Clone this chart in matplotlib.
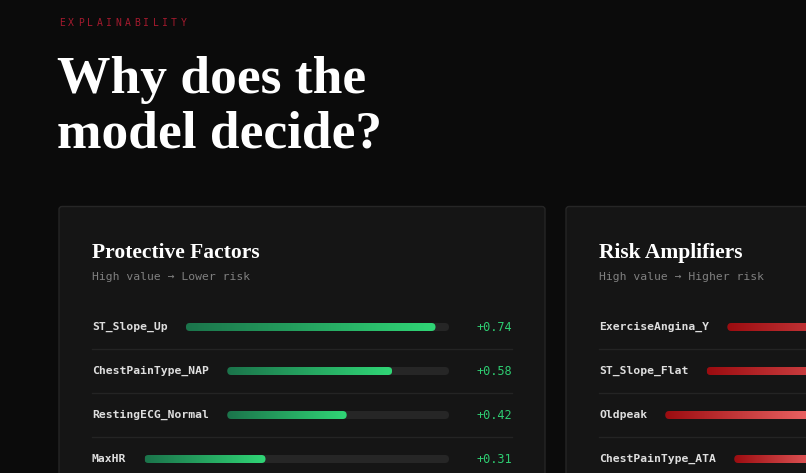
import numpy as np
import matplotlib.pyplot as plt
from matplotlib.patches import FancyBboxPatch
from matplotlib.colors import LinearSegmentedColormap

# data
prot_labels = ['ST_Slope_Up', 'ChestPainType_NAP', 'RestingECG_Normal', 'MaxHR']
prot_values = [0.74, 0.58, 0.42, 0.31]
risk_labels = ['ExerciseAngina_Y', 'ST_Slope_Flat', 'Oldpeak', 'ChestPainType_ATA']
risk_values = [0.68, 0.61, 0.42, 0.35]
scale_max = 0.78

W, H = 806, 473
BG = '#0b0b0b'
CARD = '#151515'
MONO = 'DejaVu Sans Mono'
SERIF = 'Liberation Serif'

greens = LinearSegmentedColormap.from_list('g', ['#1b744b', '#30d676'])
reds = LinearSegmentedColormap.from_list('r', ['#9c0c10', '#f26a6a'])

fig = plt.figure(figsize=(W / 100, H / 100), dpi=100)
fig.patch.set_facecolor(BG)
ax = fig.add_axes([0, 0, 1, 1])
ax.set_facecolor(BG)
ax.axis('off')

# eyebrow with letter spacing
for i, ch in enumerate('EXPLAINABILITY'):
    ax.text(59 + i * 9.35, 23, ch, color='#a51a2e', fontsize=7,
            family=MONO, va='center', ha='left')

ax.text(57, 93, 'Why does the', color='white', fontsize=38.5,
        family=SERIF, weight='bold', va='baseline')
ax.text(57, 147, 'model decide?', color='white', fontsize=38.5,
        family=SERIF, weight='bold', va='baseline')

CHAR_W = 6.9


def card(x0, title, sub, labels, values, cmap, vcolor, show_values=True):
    w = 486
    ax.add_patch(FancyBboxPatch((x0, 206.5), w, 320,
                                boxstyle='round,pad=0,rounding_size=3',
                                fc=CARD, ec='#262626', lw=1, zorder=1))
    left = x0 + 33
    right = x0 + w - 33
    track_end = right - 63
    ax.text(left, 258, title, color='white', fontsize=15.5, family=SERIF,
            weight='bold', va='baseline', zorder=5)
    ax.text(left, 277, sub, color='#808080', fontsize=8.2, family=MONO,
            va='center', zorder=5)
    for i, (lab, v) in enumerate(zip(labels, values)):
        y = 327 + i * 44
        ax.text(left, y, lab, color='#dedede', fontsize=8.2, family=MONO,
                weight='bold', va='center', zorder=5)
        x_start = left + len(lab) * CHAR_W + 18
        tw = track_end - x_start
        ax.add_patch(FancyBboxPatch((x_start, y - 4), tw, 8,
                                    boxstyle='round,pad=0,rounding_size=4',
                                    fc='#262626', ec='none', zorder=2))
        fw = tw * v / scale_max
        clip = FancyBboxPatch((x_start, y - 4), fw, 8,
                              boxstyle='round,pad=0,rounding_size=4',
                              fc='none', ec='none', zorder=3)
        ax.add_patch(clip)
        grad = np.linspace(0, 1, 256).reshape(1, -1)
        im = ax.imshow(grad, extent=[x_start, x_start + fw, y + 4, y - 4],
                       cmap=cmap, aspect='auto', zorder=3,
                       interpolation='bilinear')
        im.set_clip_path(clip)
        if show_values:
            ax.text(right, y, '+%.2f' % v, color=vcolor, fontsize=8.6,
                    family=MONO, ha='right', va='center', zorder=5)
        if i < len(labels) - 1:
            ax.plot([left, right], [y + 22, y + 22], color='#242424',
                    lw=1, zorder=2)


card(59, 'Protective Factors', 'High value \u2192 Lower risk',
     prot_labels, prot_values, greens, '#2ecc71')
# right card runs off the page; its value column is beyond the edge
card(566, 'Risk Amplifiers', 'High value \u2192 Higher risk',
     risk_labels, risk_values, reds, '#ef5350', show_values=False)

ax.set_xlim(0, W)
ax.set_ylim(H, 0)
fig.savefig('out.png', dpi=100, facecolor=BG)
